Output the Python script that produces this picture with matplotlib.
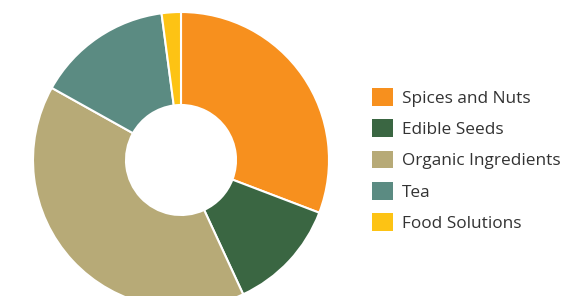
import matplotlib
matplotlib.use("Agg")
import matplotlib.pyplot as plt
from matplotlib.patches import Patch

categories = ["Spices and Nuts", "Edible Seeds", "Organic Ingredients", "Tea", "Food Solutions"]
values = [30.8, 12.3, 40.0, 14.8, 2.1]
colors = ["#F7901E", "#3A6642", "#B7AA77", "#5B8B82", "#FDC314"]

plt.rcParams['font.family'] = ['Open Sans', 'DejaVu Sans']

W, H = 563, 296
fig = plt.figure(figsize=(W/100, H/100), dpi=100)
R = 148
cx, cy = 181, 160
ax = fig.add_axes([(cx-R)/W, (H-cy-R)/H, 2*R/W, 2*R/H])
ax.pie(values, colors=colors, startangle=90, counterclock=False, radius=1,
       wedgeprops=dict(width=1-55/148, edgecolor="white", linewidth=1.5))
ax.set_xlim(-1, 1)
ax.set_ylim(-1, 1)
ax.set_aspect('equal')
ax.axis('off')

handles = [Patch(facecolor=c, edgecolor='none') for c in colors]
fig.legend(handles, categories, loc='center left', bbox_to_anchor=(365/W, 1-160/H),
           frameon=False, fontsize=12.4, handlelength=1.2, handleheight=1.2,
           labelspacing=0.74, handletextpad=0.55, labelcolor='#333333',
           borderpad=0.4, borderaxespad=0)

fig.savefig("out.png", dpi=100)
